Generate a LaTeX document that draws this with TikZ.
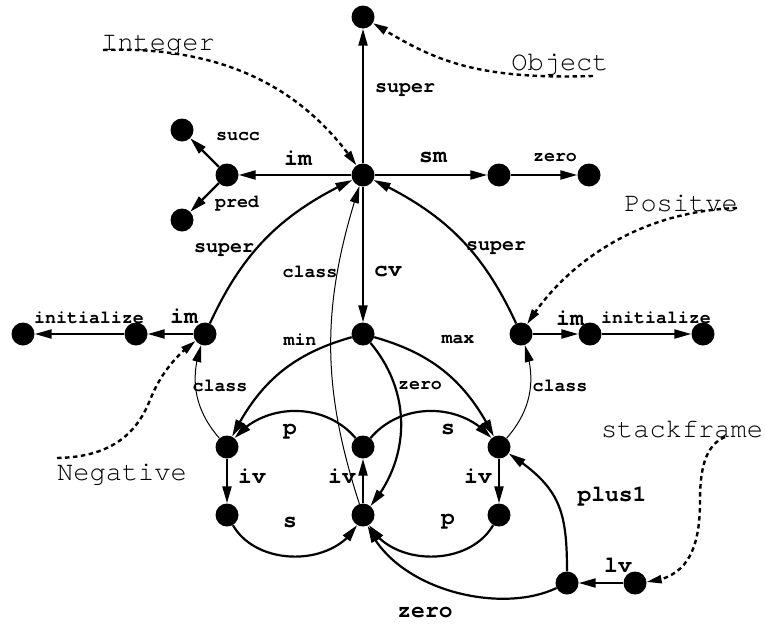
\documentclass[tikz,border=0pt]{standalone}
\usepackage{fontspec}
\usetikzlibrary{arrows.meta,bending}
\newfontfamily\cursorfont{texgyrecursor}[Extension=.otf, UprightFont=*-regular, BoldFont=*-bold]

\begin{document}
\begin{tikzpicture}[x=1pt,y=1pt,
  dot/.style={circle,fill=black,inner sep=0pt,minimum size=23pt},
  edge/.style={line width=2.2pt,-{Triangle[length=17pt,width=9pt]}},
  thinedge/.style={line width=1pt,-{Triangle[length=17pt,width=9pt]}},
  note/.style={line width=2.4pt,dash pattern=on 4.5pt off 3.5pt,-{Triangle[length=15pt,width=8pt]}},
  lbl/.style={inner sep=0pt},
  big/.style={lbl,font=\cursorfont\bfseries\fontsize{23}{25}\selectfont},
  mid/.style={lbl,font=\cursorfont\bfseries\fontsize{20}{22}\selectfont},
  small/.style={lbl,font=\cursorfont\bfseries\fontsize{18.3}{20}\selectfont},
  anno/.style={lbl,font=\cursorfont\fontsize{27}{29}\selectfont}]

\useasboundingbox (0,0) rectangle (765,-624);

% ---- nodes ----
\node[dot] (obj)  at (363,-17)  {};
\node[dot] (int)  at (363,-175) {};
\node[dot] (imL)  at (227,-175) {};
\node[dot] (succ) at (182,-130) {};
\node[dot] (pred) at (182,-220) {};
\node[dot] (smR)  at (499,-175) {};
\node[dot] (zer)  at (589,-175) {};
\node[dot] (cv)   at (363,-334) {};
\node[dot] (neg)  at (205,-334) {};
\node[dot] (negA) at (136,-334) {};
\node[dot] (negB) at (23,-334)  {};
\node[dot] (pos)  at (521,-334) {};
\node[dot] (posA) at (590,-334) {};
\node[dot] (posB) at (703,-334) {};
\node[dot] (lu)   at (227,-447) {};
\node[dot] (ll)   at (227,-515) {};
\node[dot] (mu)   at (363,-447) {};
\node[dot] (ml)   at (363,-515) {};
\node[dot] (ru)   at (499,-447) {};
\node[dot] (rl)   at (499,-515) {};
\node[dot] (sf)   at (567,-583) {};
\node[dot] (lv)   at (635,-583) {};

% ---- straight edges ----
\draw[edge] (int) -- (obj);
\draw[edge] (int) -- (imL);
\draw[edge] (imL) -- (succ);
\draw[edge] (imL) -- (pred);
\draw[edge] (int) -- (smR);
\draw[edge] (smR) -- (zer);
\draw[edge] (int) -- (cv);
\draw[edge] (neg) -- (negA);
\draw[edge] (negA) -- (negB);
\draw[edge] (pos) -- (posA);
\draw[edge] (posA) -- (posB);
\draw[edge] (lu) -- (ll);
\draw[edge] (ml) -- (mu);
\draw[edge] (ru) -- (rl);
\draw[edge] (lv) -- (sf);

% ---- curved edges ----
\draw[edge] (neg) to[bend left=20] (int);
\draw[edge] (pos) to[bend right=20] (int);
\draw[thinedge] (ml) to[bend left=18] (int);
\draw[thinedge] (lu) to[bend left=30] (neg);
\draw[thinedge] (ru) to[bend right=30] (pos);
\draw[edge] (cv) to[bend right=24] (lu);
\draw[edge] (cv) to[bend left=24] (ru);
\draw[edge] (cv) to[bend left=40] (ml);
\draw[edge] (mu) to[bend right=50] (lu);
\draw[edge] (mu) to[bend left=50] (ru);
\draw[edge] (ll) to[bend right=60] (ml);
\draw[edge] (rl) to[bend left=60] (ml);
\draw[edge] (sf) .. controls +(0,75) and +(60,-40) .. (ru);
\draw[edge] (sf) .. controls +(-67,-32) and +(32,-75) .. (ml);

% ---- edge labels ----
\node[mid]   (tSupT) at (405,-90)  {super};
\node[big]   (tImT)  at (298,-158) {im};
\node[small] (tSucc) at (238,-137) {succ};
\node[small] (tPred) at (237,-204) {pred};
\node[mid]   (tSupL) at (224,-250) {super};
\node[small] (tClsC) at (310,-272) {class};
\node[big]   (tCv)   at (388,-272) {cv};
\node[big]   (tSm)   at (433,-158) {sm};
\node[small] (tZerT) at (555,-158) {zero};
\node[mid]   (tSupR) at (496,-248) {super};
\node[small] (tIniL) at (89,-318)  {initialize};
\node[big]   (tImL)  at (184,-316) {im};
\node[small] (tMin)  at (300,-340) {min};
\node[small] (tClsL) at (220,-386) {class};
\node[big]   (tPUL)  at (290,-432) {p};
\node[big]   (tIvL)  at (252,-476) {iv};
\node[big]   (tIvM)  at (342,-476) {iv};
\node[big]   (tIvR)  at (478,-476) {iv};
\node[big]   (tSLL)  at (290,-522) {s};
\node[big]   (tSUR)  at (448,-430) {s};
\node[big]   (tPLR)  at (448,-522) {p};
\node[small] (tZerM) at (420,-386) {zero};
\node[small] (tMax)  at (458,-340) {max};
\node[big]   (tImR)  at (570,-318) {im};
\node[small] (tIniR) at (656,-318) {initialize};
\node[small] (tClsR) at (560,-386) {class};
\node[big]   (tPlus) at (612,-497) {plus1};
\node[big]   (tLv)   at (618,-565) {lv};
\node[big]   (tZerB) at (425,-612) {zero};

% ---- annotations ----
\node[anno] (aInt) at (158,-45)  {Integer};
\node[anno] (aObj) at (560,-65)  {Object};
\node[anno] (aPos) at (681,-203) {Positve};
\node[anno] (aNeg) at (122,-475) {Negative};
\node[anno] (aSf)  at (682,-430) {stackframe};

\coordinate (intS) at (103,-50);
\coordinate (objS) at (593,-76);
\coordinate (posS) at (737,-208);
\coordinate (negS) at (57,-458);
\coordinate (negM) at (150,-400);
\coordinate (sfS)  at (725,-437);
\coordinate (sfM)  at (700,-500);

\draw[note] (intS) .. controls +(137,5) and +(-50,73) .. (int);
\draw[note] (objS) .. controls +(-123,-4) and +(67,-41) .. (obj);
\draw[note] (posS) .. controls +(-107,-4) and +(39,63) .. (pos);
\draw[note] (negS) .. controls +(58,1) and +(-12,-30) .. (negM)
                   .. controls +(10,25) and +(-30,-22) .. (neg);
\draw[note] (sfS) .. controls +(-20,-8) and +(0,30) .. (sfM)
                  .. controls +(0,-45) and +(55,5) .. (lv);
\end{tikzpicture}
\end{document}
